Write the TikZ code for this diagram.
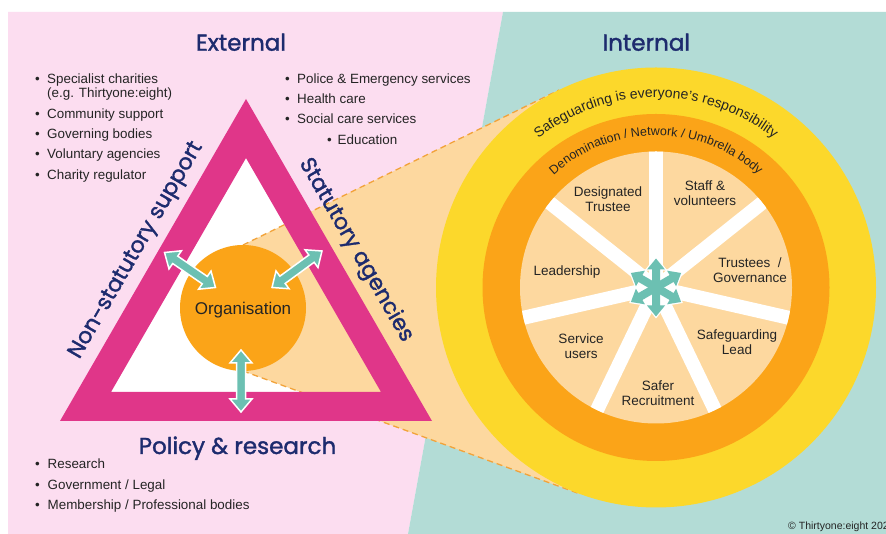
\documentclass[tikz,border=0pt]{standalone}
\usepackage{fontspec}
\setmainfont{Liberation Sans}
\newfontfamily\headfont{Poppins}[FakeBold=1.5]
\usetikzlibrary{calc,decorations.text}

\definecolor{pinkbg}{HTML}{FCDDF0}
\definecolor{tealbg}{HTML}{B3DCD6}
\definecolor{triband}{HTML}{E03689}
\definecolor{paleorange}{HTML}{FDD89F}
\definecolor{deeporange}{HTML}{FBA418}
\definecolor{sunyellow}{HTML}{FCD82B}
\definecolor{arrowteal}{HTML}{6CC0B2}
\definecolor{dashorange}{HTML}{F2A33A}
\definecolor{navy}{HTML}{1D2B6E}
\definecolor{ink}{HTML}{242424}

% block arrow with a head at both ends:
% #1 style, #2 from, #3 to, #4 head length, #5 head half-width, #6 shaft half-width
\newcommand\twoway[6]{%
  \path[#1] (#2)
    -- ($(#2)!#4!(#3)!#5!90:(#3)$)
    -- ($(#2)!#4!(#3)!#6!90:(#3)$)
    -- ($(#3)!#4!(#2)!#6!-90:(#2)$)
    -- ($(#3)!#4!(#2)!#5!-90:(#2)$)
    -- (#3)
    -- ($(#3)!#4!(#2)!#5!90:(#2)$)
    -- ($(#3)!#4!(#2)!#6!90:(#2)$)
    -- ($(#2)!#4!(#3)!#6!-90:(#3)$)
    -- ($(#2)!#4!(#3)!#5!-90:(#3)$)
    -- cycle;}

\begin{document}
\begin{tikzpicture}[x=1pt,y=1pt,
  heading/.style={font=\headfont\fontsize{23}{26}\selectfont, text=navy, inner sep=0pt, anchor=base},
  sidelabel/.style={font=\headfont\fontsize{22}{26}\selectfont, text=navy, inner sep=0pt, anchor=base},
  listitem/.style={anchor=base west, inner sep=0pt, text=ink, font=\fontsize{13.4}{15}\selectfont},
  wheel/.style={align=center, inner sep=0pt, text=ink, font=\fontsize{13.5}{14.5}\selectfont},
  dashedge/.style={draw=dashorange, line width=1.3pt, dash pattern=on 6pt off 4pt},
  arrowbody/.style={fill=arrowteal, draw=white, line width=1.5pt, line join=miter},
  arrowhalo/.style={fill=white, draw=white, line width=2.5pt, line join=miter},
  arrowcore/.style={fill=arrowteal},
  spoke/.style={draw=white, line width=14pt}]

\useasboundingbox (0,0) rectangle (886,534);
\fill[white] (0,0) rectangle (886,534);

% two halves of the background
\fill[pinkbg] (8,0) -- (8,522) -- (503,522) -- (408,0) -- cycle;
\fill[tealbg] (503,522) -- (886,522) -- (886,0) -- (408,0) -- cycle;

% triangle corners
\coordinate (oA) at (246,435);
\coordinate (oL) at (60,113);
\coordinate (oR) at (432,113);
\coordinate (iA) at (246,376);
\coordinate (iL) at (111,142);
\coordinate (iR) at (381,142);
\fill[white] (iA) -- (iL) -- (iR) -- cycle;

% centres of the organisation and of the wheel
\coordinate (org) at (243,226);
\coordinate (hub) at (656,246.5);

% zoom wedge from the organisation to the wheel
\coordinate (wA) at (243,289);
\coordinate (wB) at (559.1,444.0);
\coordinate (wC) at (580.6,39.8);
\coordinate (wD) at (243,163);
\fill[paleorange] (wA) -- (wB) -- (wC) -- (wD) -- cycle;
\draw[dashedge] (wA) -- (wB);
\draw[dashedge] (wD) -- (wC);

% triangle band
\fill[triband, even odd rule] (oA) -- (oL) -- (oR) -- cycle (iA) -- (iL) -- (iR) -- cycle;

% the wheel
\fill[sunyellow] (hub) circle[radius=220];
\fill[deeporange] (hub) circle[radius=173.5];
\fill[paleorange] (hub) circle[radius=136];
\begin{scope}
  \clip (hub) circle[radius=136];
  \foreach \k in {0,...,6}
    {\draw[spoke] (hub) -- ++({90+\k*360/7}:150);}
\end{scope}

% ring captions
\path[decorate, decoration={text along path, text align=center,
    text={|\fontsize{14}{16}\selectfont\color{ink}|Safeguarding is everyone's responsibility}}]
  ($(hub)+(135:190)$) arc[start angle=135, end angle=45, radius=190];
\path[decorate, decoration={text along path, text align=center,
    text={|\fontsize{12.5}{14}\selectfont\color{ink}|Denomination / Network / Umbrella body}}]
  ($(hub)+(136:152)$) arc[start angle=136, end angle=44, radius=152];

% wheel sectors
\node[wheel] (designated) at (608,335) {Designated\\Trustee};
\node[wheel] (staff) at (705,341) {Staff \&\\volunteers};
\node[wheel] (trustees) at (750,264) {Trustees \ /\\Governance};
\node[wheel] (leadership) at (567,262) {Leadership};
\node[wheel] (lead) at (737,192) {Safeguarding\\Lead};
\node[wheel] (recruitment) at (658,141) {Safer\\Recruitment};
\node[wheel] (users) at (581,188) {Service\\users};

% centre of the wheel: three crossing two-way arrows
\foreach \a in {90,30,150} {
  \coordinate (s\a a) at ($(hub)+(\a:29)$);
  \coordinate (s\a b) at ($(hub)+(\a+180:29)$);
}
\foreach \a in {90,30,150}
  {\twoway{arrowhalo}{s\a a}{s\a b}{11pt}{9pt}{4pt}}
\foreach \a in {90,30,150}
  {\twoway{arrowcore}{s\a a}{s\a b}{11pt}{9pt}{4pt}}

% organisation
\node[circle, fill=deeporange, minimum size=126pt, inner sep=0pt, text=ink,
      font=\fontsize{17}{19}\selectfont, text depth=0pt] (organisation) at (org) {Organisation};

% links from the organisation to the three sides
\coordinate (nsEnd) at (164.5,281.5);
\coordinate (nsOrg) at (215.5,246.5);
\coordinate (stEnd) at (322,283);
\coordinate (stOrg) at (272,246.5);
\coordinate (prEnd) at (241,122);
\coordinate (prOrg) at (241,184);
\twoway{arrowbody}{nsEnd}{nsOrg}{13pt}{11pt}{4.5pt}
\twoway{arrowbody}{stEnd}{stOrg}{13pt}{11pt}{4.5pt}
\twoway{arrowbody}{prEnd}{prOrg}{13pt}{11pt}{4.5pt}

% headings
\node[heading] (external) at (241,483.3) {External};
\node[heading] (internal) at (646.3,483.3) {Internal};
\node[heading] (policy) at (237.5,80) {Policy \& research};
\node[sidelabel, rotate=60] (nonstat) at (140.9,281) {Non-statutory support};
\node[sidelabel, rotate=-60] (stat) at (351.1,281) {Statutory agencies};

% external lists
\node[listitem] (ext1) at (35,450.7) {\makebox[12pt][l]{\textbullet}Specialist charities};
\node[listitem] (ext1b) at (47,436.7) {(e.g. Thirtyone:eight)};
\node[listitem] (ext2) at (35,415.7) {\makebox[12pt][l]{\textbullet}Community support};
\node[listitem] (ext3) at (35,395) {\makebox[12pt][l]{\textbullet}Governing bodies};
\node[listitem] (ext4) at (35,375) {\makebox[12pt][l]{\textbullet}Voluntary agencies};
\node[listitem] (ext5) at (35,354.7) {\makebox[12pt][l]{\textbullet}Charity regulator};

\node[listitem] (sta1) at (285,450.7) {\makebox[12pt][l]{\textbullet}Police \& Emergency services};
\node[listitem] (sta2) at (285,430.7) {\makebox[12pt][l]{\textbullet}Health care};
\node[listitem] (sta3) at (285,410) {\makebox[12pt][l]{\textbullet}Social care services};
\node[listitem] (sta4) at (327,389.7) {\makebox[10.5pt][l]{\textbullet}Education};

\node[listitem] (pol1) at (35,65.7) {\makebox[12.5pt][l]{\textbullet}Research};
\node[listitem] (pol2) at (35,44.7) {\makebox[12.5pt][l]{\textbullet}Government / Legal};
\node[listitem] (pol3) at (35,24) {\makebox[12.5pt][l]{\textbullet}Membership / Professional bodies};

% credit line
\node[anchor=base west, inner sep=0pt, text=ink, font=\fontsize{10.5}{12}\selectfont] (credit) at (788,4) {© Thirtyone:eight 2022};
\end{tikzpicture}
\end{document}
